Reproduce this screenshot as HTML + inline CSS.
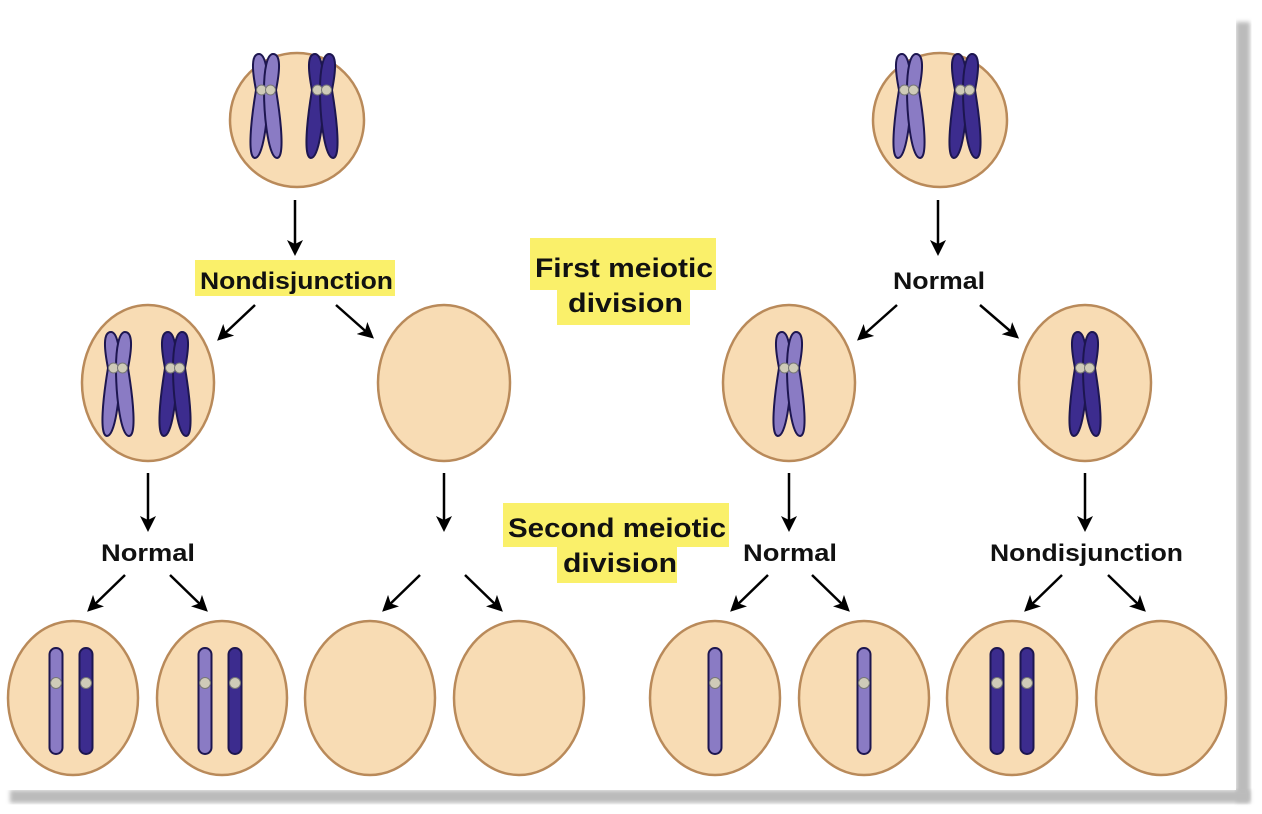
<!DOCTYPE html>
<html><head><meta charset="utf-8"><style>
html,body{margin:0;padding:0;background:#fff;}
svg{display:block;}
text{font-family:"Liberation Sans",sans-serif;font-weight:bold;fill:#111;}
</style></head><body>
<svg width="1262" height="814" viewBox="0 0 1262 814" xmlns="http://www.w3.org/2000/svg">
<defs>
<filter id="bl"><feGaussianBlur stdDeviation="2"/></filter>
<marker id="ah" markerWidth="16" markerHeight="16" refX="12" refY="8" orient="auto" markerUnits="userSpaceOnUse" viewBox="0 0 16 16">
<path d="M0,0 L16,8 L0,16 L4,8 Z" fill="#000"/></marker>
<path id="cl" d="M2,0 C2,-20 -1,-36 -7,-36 C-15,-36 -14,-20 -10,0 C-15,30 -19,68 -11,68 C-3,68 2,30 2,0 Z"/>
<path id="cr" d="M-2,0 C-2,-20 1,-36 7,-36 C15,-36 14,-20 10,0 C15,30 19,68 11,68 C3,68 -2,30 -2,0 Z"/>
<g id="xl" fill="#8a7bc4" stroke="#1d1650" stroke-width="2">
<use href="#cl"/><use href="#cr"/>
<circle cx="-4.5" cy="0" r="5" fill="#cfcbb8" stroke="#777" stroke-width="1"/><circle cx="4.5" cy="0" r="5" fill="#cfcbb8" stroke="#777" stroke-width="1"/>
</g>
<g id="xd" fill="#3c2c8e" stroke="#1d1650" stroke-width="2">
<use href="#cl"/><use href="#cr"/>
<circle cx="-4.5" cy="0" r="5" fill="#cfcbb8" stroke="#777" stroke-width="1"/><circle cx="4.5" cy="0" r="5" fill="#cfcbb8" stroke="#777" stroke-width="1"/>
</g>
<g id="sl"><rect x="-6.5" y="-35" width="13" height="106" rx="6.5" fill="#8a7bc4" stroke="#1d1650" stroke-width="2"/><circle cx="0" cy="0" r="5.5" fill="#cfcbb8" stroke="#777" stroke-width="1"/></g>
<g id="sd"><rect x="-6.5" y="-35" width="13" height="106" rx="6.5" fill="#3c2c8e" stroke="#1d1650" stroke-width="2"/><circle cx="0" cy="0" r="5.5" fill="#cfcbb8" stroke="#777" stroke-width="1"/></g>
</defs>
<rect x="1236" y="22" width="14" height="780" fill="#bbb" filter="url(#bl)"/>
<rect x="10" y="790" width="1240" height="13" fill="#bbb" filter="url(#bl)"/>
<rect x="0" y="0" width="1236" height="790" fill="#fff"/>
<g fill="#f8dcb4" stroke="#b98a5a" stroke-width="2.5">
<ellipse cx="297" cy="120" rx="67" ry="67"/>
<ellipse cx="940" cy="120" rx="67" ry="67"/>
<ellipse cx="148" cy="383" rx="66" ry="78"/>
<ellipse cx="444" cy="383" rx="66" ry="78"/>
<ellipse cx="789" cy="383" rx="66" ry="78"/>
<ellipse cx="1085" cy="383" rx="66" ry="78"/>
<ellipse cx="73" cy="698" rx="65" ry="77"/>
<ellipse cx="222" cy="698" rx="65" ry="77"/>
<ellipse cx="370" cy="698" rx="65" ry="77"/>
<ellipse cx="519" cy="698" rx="65" ry="77"/>
<ellipse cx="715" cy="698" rx="65" ry="77"/>
<ellipse cx="864" cy="698" rx="65" ry="77"/>
<ellipse cx="1012" cy="698" rx="65" ry="77"/>
<ellipse cx="1161" cy="698" rx="65" ry="77"/>
</g>
<use href="#xl" x="266" y="90"/><use href="#xd" x="322" y="90"/>
<use href="#xl" x="909" y="90"/><use href="#xd" x="965" y="90"/>
<use href="#xl" x="118" y="368"/><use href="#xd" x="175" y="368"/>
<use href="#xl" x="789" y="368"/><use href="#xd" x="1085" y="368"/>
<use href="#sl" x="56" y="683"/><use href="#sd" x="86" y="683"/>
<use href="#sl" x="205" y="683"/><use href="#sd" x="235" y="683"/>
<use href="#sl" x="715" y="683"/><use href="#sl" x="864" y="683"/>
<use href="#sd" x="997" y="683"/><use href="#sd" x="1027" y="683"/>
<g stroke="#000" stroke-width="2.5" marker-end="url(#ah)">
<line x1="295" y1="200" x2="295" y2="252"/>
<line x1="938" y1="200" x2="938" y2="252"/>
<line x1="255" y1="305" x2="220" y2="338"/><line x1="336" y1="305" x2="371" y2="336"/>
<line x1="897" y1="305" x2="860" y2="338"/><line x1="980" y1="305" x2="1016" y2="336"/>
<line x1="148" y1="473" x2="148" y2="528"/><line x1="444" y1="473" x2="444" y2="528"/>
<line x1="789" y1="473" x2="789" y2="528"/><line x1="1085" y1="473" x2="1085" y2="528"/>
<line x1="125" y1="575" x2="90" y2="609"/><line x1="170" y1="575" x2="205" y2="609"/>
<line x1="420" y1="575" x2="385" y2="609"/><line x1="465" y1="575" x2="500" y2="609"/>
<line x1="768" y1="575" x2="733" y2="609"/><line x1="812" y1="575" x2="847" y2="609"/>
<line x1="1062" y1="575" x2="1027" y2="609"/><line x1="1108" y1="575" x2="1143" y2="609"/>
</g>
<g fill="#faf06a">
<rect x="195" y="260" width="200" height="36"/>
<rect x="530" y="238" width="186" height="52"/><rect x="557" y="288" width="133" height="37"/>
<rect x="503" y="503" width="226" height="44"/><rect x="557" y="545" width="120" height="38"/>
</g>
<text x="200" y="289" font-size="24" textLength="193" lengthAdjust="spacingAndGlyphs">Nondisjunction</text>
<text x="535" y="277" font-size="27" textLength="178" lengthAdjust="spacingAndGlyphs">First meiotic</text>
<text x="568" y="312" font-size="27" textLength="115" lengthAdjust="spacingAndGlyphs">division</text>
<text x="893" y="289" font-size="24" textLength="92" lengthAdjust="spacingAndGlyphs">Normal</text>
<text x="101" y="561" font-size="24" textLength="94" lengthAdjust="spacingAndGlyphs">Normal</text>
<text x="508" y="537" font-size="27" textLength="218" lengthAdjust="spacingAndGlyphs">Second meiotic</text>
<text x="563" y="572" font-size="27" textLength="114" lengthAdjust="spacingAndGlyphs">division</text>
<text x="743" y="561" font-size="24" textLength="94" lengthAdjust="spacingAndGlyphs">Normal</text>
<text x="990" y="561" font-size="24" textLength="193" lengthAdjust="spacingAndGlyphs">Nondisjunction</text>
</svg>
</body></html>
